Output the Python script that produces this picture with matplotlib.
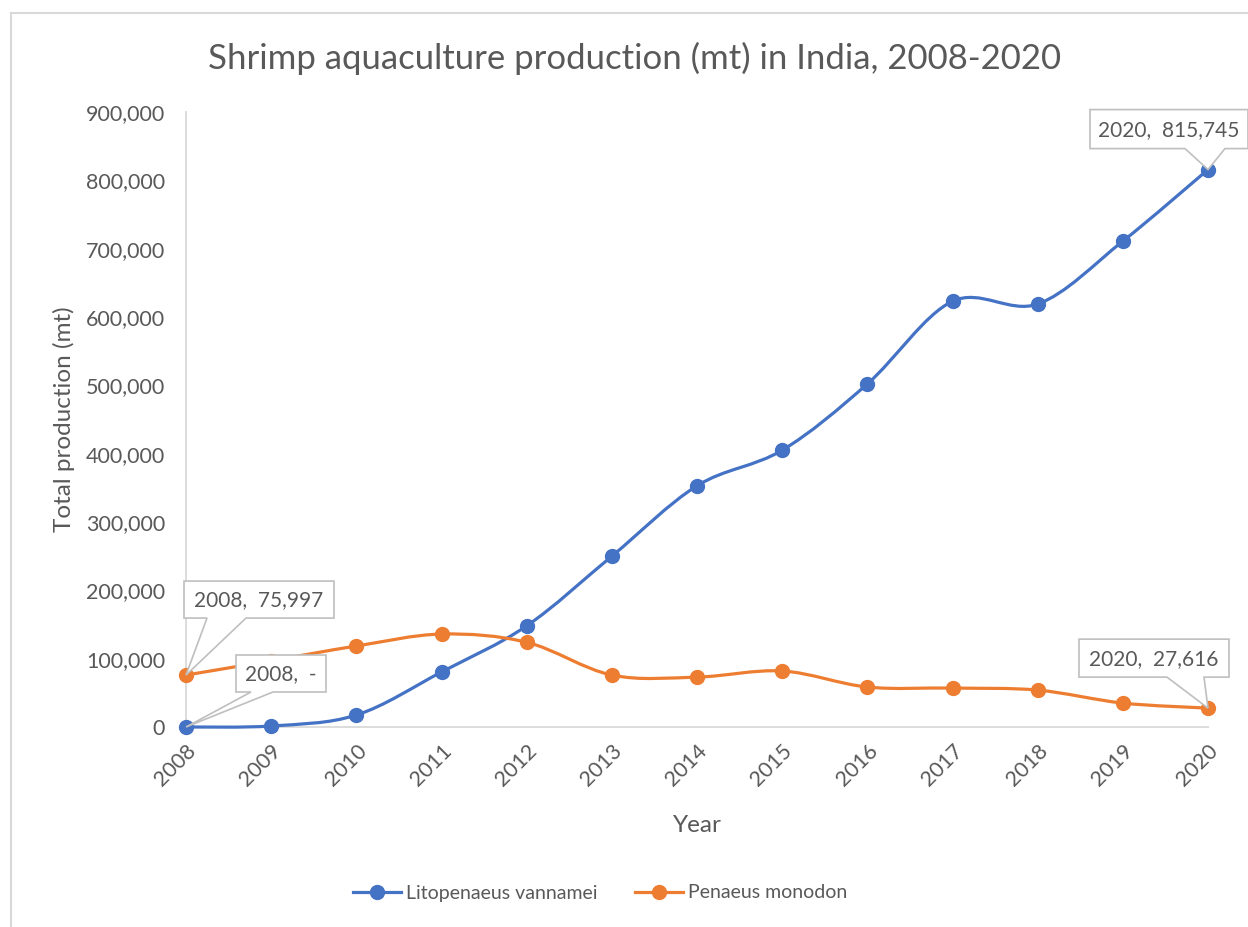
import numpy as np
import matplotlib
matplotlib.use("Agg")
import matplotlib.pyplot as plt
from matplotlib.path import Path
from matplotlib.patches import PathPatch, Polygon
from matplotlib.ticker import FuncFormatter
from matplotlib.lines import Line2D
from matplotlib.transforms import Affine2D, ScaledTranslation

plt.rcParams['font.family'] = ['Lato', 'DejaVu Sans']

years = [2008, 2009, 2010, 2011, 2012, 2013, 2014, 2015, 2016, 2017, 2018, 2019, 2020]
vannamei = [0, 1500, 17500, 80500, 148000, 250000, 353000, 405000, 502000, 623000, 619000, 711000, 815745]
monodon = [75997, 97000, 118500, 136000, 124000, 76000, 73000, 82000, 58500, 57000, 54000, 35000, 27616]
series_names = ["Litopenaeus vannamei", "Penaeus monodon"]
colors = ["#4472C4", "#ED7D31"]
yticks = [0, 100000, 200000, 300000, 400000, 500000, 600000, 700000, 800000, 900000]

W, H = 1248, 927
fig = plt.figure(figsize=(W / 100, H / 100), dpi=100)
ax = fig.add_axes([186 / W, (H - 727) / H, (1208 - 186) / W, (727 - 112) / H])

TEXT = "#595959"
GRID = "#D9D9D9"
CALL = "#BFBFBF"


def smooth_path(x, y):
    pts = np.column_stack([x, y]).astype(float)
    n = len(pts)
    verts = [pts[0]]
    codes = [Path.MOVETO]
    for i in range(n - 1):
        p0 = pts[i - 1] if i > 0 else pts[i]
        p1 = pts[i]
        p2 = pts[i + 1]
        p3 = pts[i + 2] if i + 2 < n else pts[i + 1]
        c1 = p1 + (p2 - p0) / 6.0
        c2 = p2 - (p3 - p1) / 6.0
        verts += [c1, c2, p2]
        codes += [Path.CURVE4] * 3
    return Path(verts, codes)


for vals, c in zip([vannamei, monodon], colors):
    patch = PathPatch(smooth_path(years, vals), fill=False, ec=c, lw=2.3,
                      capstyle='round', joinstyle='round', zorder=3, clip_on=False)
    ax.add_patch(patch)
    ax.plot(years, vals, ls='none', marker='o', ms=10, color=c, zorder=4, clip_on=False)

ax.set_xlim(2008, 2020)
ax.set_ylim(0, 900000)
ax.set_xticks(years)
ax.set_yticks(yticks)
ax.yaxis.set_major_formatter(FuncFormatter(lambda v, p: f"{int(v):,}"))
ax.tick_params(axis='both', length=0, labelsize=15.5, colors=TEXT)
ax.tick_params(axis='y', pad=15)
for lab in ax.get_xticklabels():
    lab.set_rotation(45)
    lab.set_ha('right')
    lab.set_va('top')
    lab.set_rotation_mode('anchor')
ax.tick_params(axis='x', pad=10)
for s in ['top', 'right']:
    ax.spines[s].set_visible(False)
for s in ['left', 'bottom']:
    ax.spines[s].set_color(GRID)
    ax.spines[s].set_linewidth(1.3)

ax.set_xlabel("Year", fontsize=17.5, color=TEXT, labelpad=18)
ax.set_ylabel("Total production (mt)", fontsize=17.5, color=TEXT, labelpad=7.5)
fig.text(635 / W, 1 - 58 / H, "Shrimp aquaculture production (mt) in India, 2008-2020",
         ha='center', va='center', fontsize=25, color=TEXT)


def callout(xv, yv, text, x0, x1, y0, y1, bx0, bx1):
    # box and tail geometry in pixel offsets from the data point (y up)
    tr = Affine2D() + ScaledTranslation(xv, yv, ax.transData)
    verts = [(x0, y0), (bx0, y0), (0, 0), (bx1, y0), (x1, y0), (x1, y1), (x0, y1)]
    poly = Polygon(verts, closed=True, fc='white', ec=CALL, lw=1.2, transform=tr,
                   zorder=6, clip_on=False, joinstyle='miter')
    fig.add_artist(poly)
    fig.text((x0 + x1) / 2, (y0 + y1) / 2 - 1, text, transform=tr, ha='center', va='center',
             fontsize=15, color=TEXT, zorder=7)


callout(years[0], monodon[0], f"{years[0]},  {monodon[0]:,}", -2, 148, 57, 94, 21, 60)
callout(years[0], vannamei[0], f"{years[0]},  -", 50, 140, 35, 72, 65, 87)
callout(years[-1], vannamei[-1], f"{years[-1]},  {vannamei[-1]:,}", -118, 40, 21, 60, -23, 17)
callout(years[-1], monodon[-1], f"{years[-1]},  {monodon[-1]:,}", -129, 21, 31, 69, -41, -4)

handles = [Line2D([], [], color=c, lw=2.3, marker='o', ms=10) for c in colors]
leg = fig.legend(handles, series_names, loc='center', bbox_to_anchor=(600 / W, 1 - 893 / H),
                 ncol=2, frameon=False, fontsize=14, handlelength=2.5, handletextpad=0.25,
                 columnspacing=1.9)
for t in leg.get_texts():
    t.set_color(TEXT)

# outer chart border
fig.add_artist(Line2D([11 / W, 11 / W], [0, 1 - 13 / H], color=GRID, lw=1.5,
                      transform=fig.transFigure))
fig.add_artist(Line2D([11 / W, 1], [1 - 13 / H, 1 - 13 / H], color=GRID, lw=1.5,
                      transform=fig.transFigure))

fig.savefig("out.png", dpi=100, facecolor='white')
